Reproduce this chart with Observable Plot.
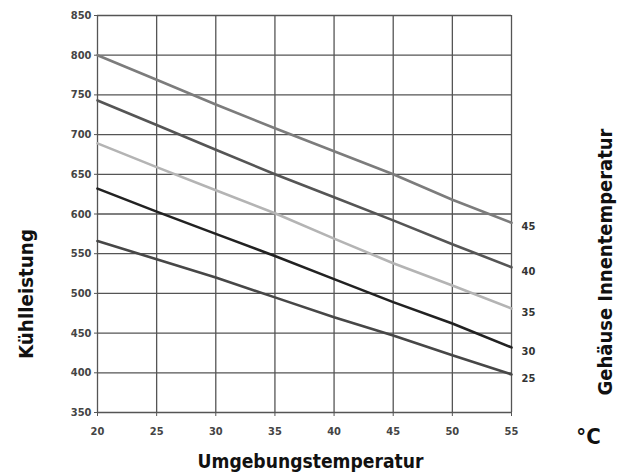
<!DOCTYPE html>
<html>
<head>
<meta charset="utf-8">
<script src="https://cdn.jsdelivr.net/npm/d3@7"></script>
<script src="https://cdn.jsdelivr.net/npm/@observablehq/plot@0.6"></script>
<style>
  html, body { margin: 0; padding: 0; background: #fff; }
  #chart svg { display: block; }
</style>
</head>
<body>
<div id="chart"></div>
<script>
// Ambient temperature (°C) – x values
const temps = [20, 25, 30, 35, 40, 45, 50, 55];
// Cooling capacity per housing internal temperature series
const series45 = [800, 769, 738, 708, 679, 650, 618, 589];
const series40 = [743, 712, 681, 650, 621, 592, 562, 533];
const series35 = [689, 659, 630, 601, 569, 538, 510, 481];
const series30 = [632, 603, 575, 547, 518, 489, 462, 432];
const series25 = [566, 543, 520, 495, 470, 447, 422, 398];
const seriesNames = ["45", "40", "35", "30", "25"];
const seriesColors = ["#7c7c7c", "#555555", "#b4b4b4", "#222222", "#474747"];
const xTicks = [20, 25, 30, 35, 40, 45, 50, 55];
const yTicks = [350, 400, 450, 500, 550, 600, 650, 700, 750, 800, 850];

const allSeries = [series45, series40, series35, series30, series25];
const data = [];
allSeries.forEach((vals, i) => {
  vals.forEach((v, j) => data.push({s: seriesNames[i], t: temps[j], v}));
});
const ends = data.filter(d => d.t === temps[temps.length - 1]);

const font = "'DejaVu Sans Condensed', 'Liberation Sans Narrow', sans-serif";
const gridColor = "#555";
const titleStyle = {text: d => d, fontSize: 20, fontWeight: "bold", fill: "#111", fontFamily: font, textAnchor: "middle", lineAnchor: "middle"};

const chart = Plot.plot({
  width: 626,
  height: 473,
  marginLeft: 97,
  marginRight: 115,
  marginTop: 15,
  marginBottom: 61,
  style: {fontFamily: font, background: "#fff", color: "#333"},
  x: {domain: [20, 55]},
  y: {domain: [350, 850]},
  color: {domain: seriesNames, range: seriesColors},
  marks: [
    Plot.gridX(xTicks, {stroke: gridColor, strokeOpacity: 1, strokeWidth: 1.3}),
    Plot.gridY(yTicks, {stroke: gridColor, strokeOpacity: 1, strokeWidth: 1.3}),
    Plot.axisX(xTicks, {tickSize: 4, tickPadding: 11, fontSize: 11, fontWeight: "bold", fill: "#444", stroke: gridColor, label: null}),
    Plot.axisY(yTicks, {tickSize: 3, tickPadding: 3, fontSize: 11, fontWeight: "bold", fill: "#444", stroke: gridColor, label: null}),
    Plot.line(data, {x: "t", y: "v", z: "s", stroke: "s", strokeWidth: 2.6}),
    Plot.text(ends, {x: "t", y: "v", text: "s", dx: 10, dy: 4, textAnchor: "start", fontSize: 11, fontWeight: "bold", fill: "#333"}),
    Plot.text(["Umgebungstemperatur"], {...titleStyle, frameAnchor: "bottom", dx: 6, dy: 49, className: "t-x"}),
    Plot.text(["Kühlleistung"], {...titleStyle, frameAnchor: "left", dx: -71, dy: 80, rotate: -90, className: "t-y"}),
    Plot.text(["Gehäuse Innentemperatur"], {...titleStyle, frameAnchor: "right", dx: 94, dy: 48, rotate: -90, className: "t-r"}),
    Plot.text(["°C"], {...titleStyle, fontSize: 22, frameAnchor: "bottom-right", dx: 77, dy: 24})
  ]
});
// squeeze titles to the condensed widths of the original typeface
[["t-x", 226], ["t-y", 130], ["t-r", 267]].forEach(([cls, len]) => {
  chart.querySelectorAll("." + cls + " text").forEach(t => {
    t.setAttribute("textLength", len);
    t.setAttribute("lengthAdjust", "spacingAndGlyphs");
  });
});
document.getElementById("chart").appendChild(chart);
</script>
</body>
</html>
